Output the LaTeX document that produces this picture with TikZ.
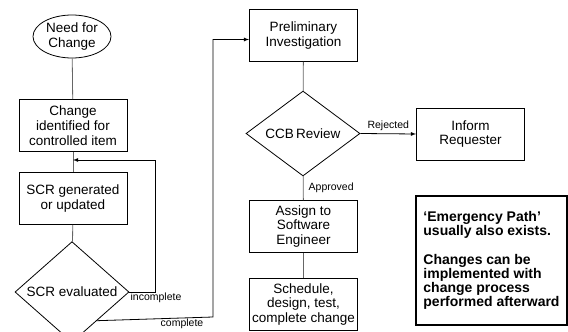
\documentclass[tikz,border=0pt]{standalone}
\usepackage{fontspec}
\setmainfont{Liberation Sans}
\usetikzlibrary{shapes.geometric}
\tikzstyle{procbox}=[rectangle, draw, line width=0.8pt, minimum width=108pt, minimum height=52pt, inner sep=1pt, align=center, font=\fontsize{13.5}{14.7}\selectfont]
\tikzstyle{decide}=[diamond, draw, line width=0.8pt, minimum width=114pt, minimum height=82pt, inner sep=0pt, align=center, font=\fontsize{13.5}{14.7}\selectfont]
\tikzstyle{start}=[ellipse, draw, line width=0.8pt, minimum width=78pt, minimum height=43pt, inner sep=0pt, align=center, font=\fontsize{13.5}{14.7}\selectfont]
\tikzstyle{link}=[draw=black!60, line width=0.8pt]
\tikzstyle{flow}=[draw, ->, >=latex, line width=0.8pt]
\tikzstyle{lbl}=[inner sep=1pt, font=\fontsize{10.5}{12}\selectfont]
\newcommand{\procbox}{\node[procbox]}
\newcommand{\decide}{\node[decide]}

\begin{document}
\begin{tikzpicture}[x=1pt, y=-1pt]
\useasboundingbox (0,0) rectangle (568,332);
% left column
\node[start] (need) at (72,36.5){Need for\\Change};
\procbox (ident) at (73,125.5){Change\\identified for\\controlled item};
\procbox (scr) at (73,198.5){SCR generated\\or updated};
\decide (eval) at (72,292){SCR evaluated};
% right column
\procbox (prelim) at (303.5,35.5){Preliminary\\Investigation};
\decide (ccb) at (303,133.5){CCB\,Review};
\procbox (inform) at (470.5,134){Inform\\Requester};
\procbox (assign) at (303.5,226.5){Assign to\\Software\\Engineer};
\procbox (sched) at (303.5,304.5){Schedule,\\design, test,\\complete change};
\node[draw, line width=1.6pt, minimum width=151pt, minimum height=129pt, align=left, font=\fontsize{14}{14.2}\selectfont\bfseries] (note) at (491.5,260.5){`Emergency Path'\\usually also exists.\\[14pt]Changes can be\\implemented with\\change process\\performed afterward};
% connectors
\path[link] (need)--(ident);
\path[link] (ident)--(scr);
\path[link] (scr)--(eval);
\path[link] (prelim)--(ccb);
\path[link] (ccb)--(assign) node[lbl, midway, right=4pt] (appr){Approved};
\path[link] (assign)--(sched);
\coordinate (back) at (73,160);
\draw[flow] (eval.east) -| (155,160) -- (back);
\node[lbl, anchor=north west] (incompl) at (eval.east){incomplete};
\draw[flow] (eval.-49) -- (213,317) |- ([yshift=-4pt]prelim.west);
\node[lbl, below] (compl) at (182,318){complete};
\draw[flow] (ccb.east) -- (inform.west) node[lbl, midway, above=2pt] (rej){Rejected};
\end{tikzpicture}
\end{document}
